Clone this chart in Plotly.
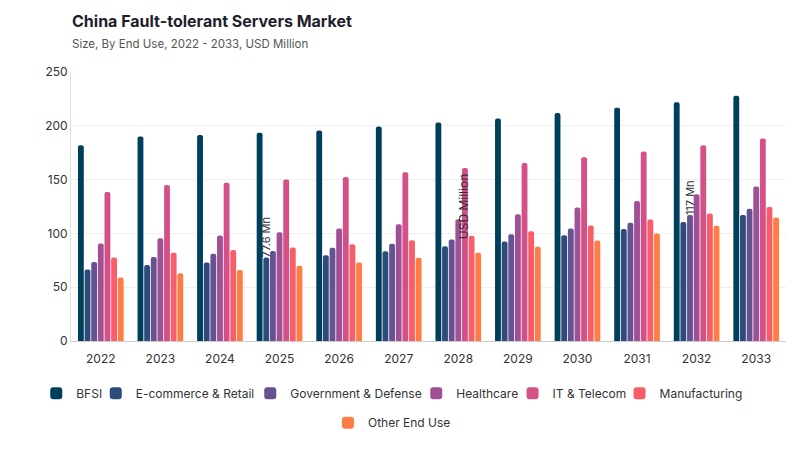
import plotly.graph_objects as go

years = ["2022", "2023", "2024", "2025", "2026", "2027", "2028", "2029", "2030", "2031", "2032", "2033"]

bfsi = [182, 190, 191.5, 193.6, 195.7, 199.4, 203, 206.9, 211.8, 216.8, 222, 228]
ecommerce = [66.5, 70.6, 73, 77.6, 79.8, 83.5, 88, 92.5, 98.3, 104, 110.7, 117.2]
government = [73.5, 78, 81, 83.6, 86.6, 90.3, 94.3, 99.3, 104.5, 110, 117, 123]
healthcare = [90.5, 95.5, 98, 101, 104.5, 108.5, 113.2, 117.8, 124, 130, 136.4, 143.5]
it_telecom = [138.5, 145, 147, 150, 152.4, 156.8, 160.8, 165.4, 170.7, 176, 182, 188.3]
manufacturing = [77.5, 82, 84.5, 87, 90, 93.7, 97.7, 102, 107.3, 113, 118.4, 124.6]
other = [59, 63, 66, 70, 73, 77.3, 82, 87.5, 93.4, 100, 107, 114.7]

series_names = ["BFSI", "E-commerce & Retail", "Government & Defense", "Healthcare",
                "IT & Telecom", "Manufacturing", "Other End Use"]
series_values = [bfsi, ecommerce, government, healthcare, it_telecom, manufacturing, other]
colors = ["#003f5c", "#2f4b7c", "#665191", "#a05195", "#d45087", "#f95d6a", "#ff7c43"]

# legend entry placement (page pixels: symbol centre x, row centre y)
legend_sym_x = [60, 119.5, 274, 440, 536.3, 643.3, 351.7]
legend_row_y = [393.3, 393.3, 393.3, 393.3, 393.3, 393.3, 422.7]

# value labels shown on specific bars
labels = {
    "E-commerce & Retail": {"2025": "77.6 Mn"},
    "Government & Defense": {"2032": "117 Mn"},
}

font_family = "Inter, Lato, sans-serif"
W, H = 792, 442
OFF = 8  # page offset of the figure
ML, MR, MT, MB = 63, 14, 64, 109
plot_h = H - MT - MB

fig = go.Figure()
legend_layouts = {}
for i, (name, vals, col) in enumerate(zip(series_names, series_values, colors)):
    lab = labels.get(name, {})
    txt = [lab.get(y, "") for y in years]
    lg = "legend" if i == 0 else f"legend{i + 1}"
    fig.add_trace(go.Bar(
        x=years, y=vals, name=name, marker_color=col,
        marker_line_width=0, legend=lg,
        text=txt, textposition="outside", textangle=-90,
        constraintext="none", cliponaxis=False,
        textfont=dict(size=11, color="#333333", family=font_family),
    ))
    start = legend_sym_x[i] - 23.75 - OFF
    yc = legend_row_y[i] - OFF
    legend_layouts[lg] = dict(
        orientation="h", x=start / W, xanchor="left", xref="container",
        y=(H - MB - yc) / plot_h, yanchor="middle",
        font=dict(size=12, color="#333333"), borderwidth=0,
        bgcolor="rgba(0,0,0,0)",
    )

fig.update_layout(
    width=W, height=H,
    barmode="group", bargap=0.22, bargroupgap=0.12,
    barcornerradius=4,
    paper_bgcolor="white", plot_bgcolor="white",
    margin=dict(l=ML, r=MR, t=MT, b=MB, autoexpand=False),
    font=dict(family=font_family, size=12, color="#333333"),
    title=dict(
        text="<b>China Fault-tolerant Servers Market</b><br><span style='font-size:11.5px;color:#555555'>Size, By End Use, 2022 - 2033, USD Million</span>",
        x=64 / W, xanchor="left", xref="container",
        y=1 - 19 / H, yanchor="top", yref="container",
        font=dict(size=16, color="#1e1e2e", family=font_family),
    ),
    xaxis=dict(
        showgrid=False, showline=True, linecolor="#cccccc", linewidth=1,
        tickfont=dict(size=12, color="#333333"), ticks="", ticklabelstandoff=7,
    ),
    yaxis=dict(
        range=[0, 250], dtick=50, showgrid=True, gridcolor="#f0f0f0",
        showline=True, linecolor="#dddddd", linewidth=1, automargin=False,
        zeroline=False, ticks="", tickfont=dict(size=12, color="#333333"),
        title=dict(text="USD Million", font=dict(size=12, color="#333333"), standoff=16),
    ),
    showlegend=True,
    **legend_layouts,
)

fig.write_html("out.html")
